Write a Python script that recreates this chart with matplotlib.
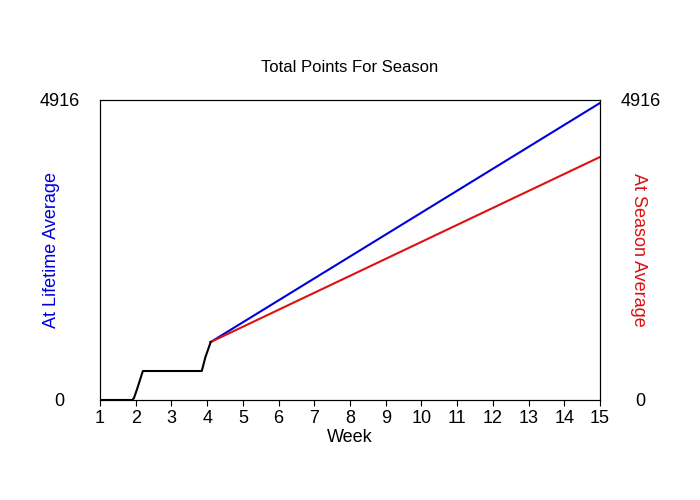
import matplotlib
matplotlib.use("Agg")
import matplotlib.pyplot as plt

plt.rcParams['font.family'] = ['Liberation Sans', 'DejaVu Sans']

actual_weeks = [1, 1.9, 1.95, 2.05, 2.2, 3.85, 3.95, 4.1]
actual_pts = [0, 0, 30, 200, 475, 475, 700, 950]
proj_weeks = [4.1, 15]
lifetime_pts = [950, 4867]
season_pts = [950, 3982]
ymax = 4916

fig = plt.figure(figsize=(7, 5), dpi=100)
ax = fig.add_axes([100/700, 100/500, 500/700, 300/500])
ax.plot(proj_weeks, lifetime_pts, color='#0000dd', lw=1.5)
ax.plot(proj_weeks, season_pts, color='#dd1111', lw=1.5)
ax.plot(actual_weeks, actual_pts, color='black', lw=1.5)
ax.set_xlim(1, 15)
ax.set_ylim(0, ymax)
ax.set_xticks(range(1, 16))
ax.set_yticks([0, ymax])
ax.tick_params(axis='x', labelsize=13, length=4, direction='out')
ax.tick_params(axis='y', labelsize=13, length=0, pad=29)
for t in ax.get_yticklabels():
    t.set_horizontalalignment('center')
ax.set_xlabel('Week', fontsize=13, labelpad=1)
ax.set_ylabel('At Lifetime Average', color='#0000dd', fontsize=13)
ax.yaxis.set_label_coords(-0.08, 0.5)
ax.set_title('Total Points For Season', fontsize=12, pad=20)
ax2 = ax.twinx()
ax2.set_ylim(0, ymax)
ax2.set_yticks([0, ymax])
ax2.tick_params(axis='y', labelsize=13, length=0, pad=29)
for t in ax2.get_yticklabels():
    t.set_horizontalalignment('center')
ax2.set_ylabel('At Season Average', color='#dd1111', fontsize=13, rotation=-90, va='center')
ax2.yaxis.set_label_coords(1.076, 0.5)
fig.savefig('out.png')
